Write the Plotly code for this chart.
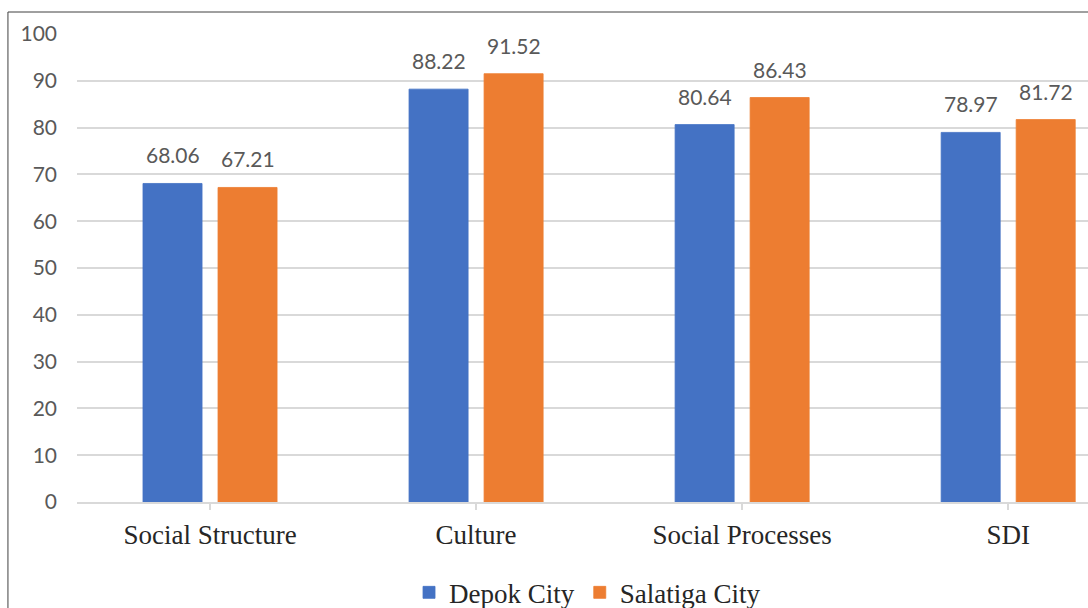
import plotly.graph_objects as go

# Social development indicators for two cities
categories = ["Social Structure", "Culture", "Social Processes", "SDI"]
depok = [68.06, 88.22, 80.64, 78.97]
salatiga = [67.21, 91.52, 86.43, 81.72]
series_names = ["Depok City", "Salatiga City"]
y_ticks = [0, 10, 20, 30, 40, 50, 60, 70, 80, 90, 100]

BLUE = "#4472C4"
ORANGE = "#ED7D31"
GRID = "#D9D9D9"
LABEL_GRAY = "#595959"

BARGAP = 0.436
BARGROUPGAP = 0.213

fig = go.Figure()
for name, vals, color in [(series_names[0], depok, BLUE), (series_names[1], salatiga, ORANGE)]:
    fig.add_trace(go.Bar(
        name=name,
        x=list(range(len(categories))),
        y=vals,
        marker=dict(color=color, line=dict(color=color, width=0.8)),
    ))

# value labels above each bar, placed at the grouped-bar centres
slot = (1 - BARGAP) / 2
for k, vals in enumerate([depok, salatiga]):
    offset = (k - 0.5) * slot
    for i, v in enumerate(vals):
        fig.add_annotation(
            x=i + offset, y=v, xref="x", yref="y",
            text=f"{v:.2f}", showarrow=False,
            yanchor="bottom", yshift=14,
            font=dict(family="Lato", size=21, color=LABEL_GRAY),
        )

# outer frame of the chart area
fig.add_shape(type="rect", xref="paper", yref="paper",
              x0=-0.0683, x1=1.2, y0=-0.5, y1=1.047,
              line=dict(color="#404040", width=1), layer="above")

fig.update_layout(
    width=1088, height=608,
    margin=dict(l=77, r=0, t=34, b=106, autoexpand=False),
    paper_bgcolor="white", plot_bgcolor="white",
    barmode="group", bargap=BARGAP, bargroupgap=BARGROUPGAP,
    showlegend=True,
    legend=dict(orientation="h", xref="container", yref="container",
                x=0.54, xanchor="center", y=0.025, yanchor="middle",
                font=dict(family="Liberation Serif", size=27, color="#262626"),
                itemwidth=30),
    xaxis=dict(
        range=[-0.5, 3.3], automargin=False,
        tickmode="array", tickvals=list(range(len(categories))), ticktext=categories,
        tickson="boundaries", ticks="outside", ticklen=6, tickcolor=GRID, tickwidth=1.5,
        showline=True, linecolor=GRID, linewidth=1.5,
        showgrid=False,
        tickfont=dict(family="Liberation Serif", size=27, color="#262626"),
        ticklabelstandoff=2,
    ),
    yaxis=dict(
        range=[0, 100], tickvals=y_ticks, automargin=False,
        showgrid=True, gridcolor=GRID, gridwidth=1.5,
        zeroline=False, showline=False, ticks="",
        tickfont=dict(family="Lato", size=21, color=LABEL_GRAY),
        ticklabelstandoff=19,
    ),
)

fig.write_html("out.html")
